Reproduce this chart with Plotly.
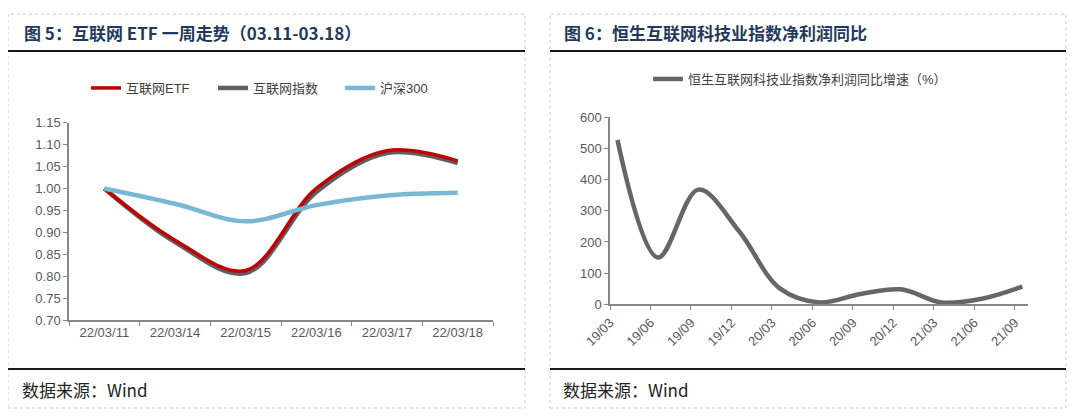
import plotly.graph_objects as go

# ---------------- data ----------------
left_dates = ["22/03/11", "22/03/14", "22/03/15", "22/03/16", "22/03/17", "22/03/18"]
etf_values = [1.000, 0.882, 0.813, 1.000, 1.086, 1.063]
index_values = [1.000, 0.878, 0.807, 0.992, 1.081, 1.058]
hs300_values = [1.000, 0.965, 0.925, 0.962, 0.984, 0.990]

right_quarters = ["19/03", "19/06", "19/09", "19/12", "20/03", "20/06",
                  "20/09", "20/12", "21/03", "21/06", "21/09"]
profit_yoy = [527, 150, 368, 235, 52, 6, 33, 48, 6, 18, 57]

left_title = "图 5：互联网 ETF 一周走势（03.11-03.18）"
right_title = "图 6：恒生互联网科技业指数净利润同比"
source_text = "数据来源：Wind"

# ---------------- layout helpers ----------------
# The page body has an 8px margin, so the figure is drawn at (8, 8).
OFF = 8
W, H = 1064, 403


def px(x):
    return (x - OFF) / W


def py(y):
    return 1 - (y - OFF) / H


AXIS_GRAY = "#868686"
TICK_FONT = dict(family="Liberation Sans, Arial, sans-serif", size=13, color="#595959")
LEG_FONT = dict(family="Liberation Sans, Noto Sans CJK SC, sans-serif", size=13, color="#404040")
TITLE_FONT = dict(family="Noto Sans CJK SC, sans-serif", size=17, color="#1f3a5c")
SRC_FONT = dict(family="Noto Sans CJK SC, Liberation Sans, sans-serif", size=17, color="#222222")

fig = go.Figure()

# left chart traces (gray under red, blue on top)
fig.add_trace(go.Scatter(
    x=left_dates, y=index_values, name="互联网指数", mode="lines",
    line=dict(color="#5f5f5f", width=4.5, shape="spline", smoothing=1.0),
    xaxis="x", yaxis="y", legend="legend", legendrank=2))
fig.add_trace(go.Scatter(
    x=left_dates, y=etf_values, name="互联网ETF", mode="lines",
    line=dict(color="#c00000", width=3.5, shape="spline", smoothing=1.0),
    xaxis="x", yaxis="y", legend="legend", legendrank=1))
fig.add_trace(go.Scatter(
    x=left_dates, y=hs300_values, name="沪深300", mode="lines",
    line=dict(color="#79b8d3", width=4.5, shape="spline", smoothing=1.0),
    xaxis="x", yaxis="y", legend="legend", legendrank=3))

# right chart trace
fig.add_trace(go.Scatter(
    x=list(range(len(right_quarters))), y=profit_yoy,
    name="恒生互联网科技业指数净利润同比增速（%）", mode="lines",
    line=dict(color="#666666", width=4.5, shape="spline", smoothing=1.0),
    xaxis="x2", yaxis="y2", legend="legend2"))

TICK_OFFSET = 0.185
right_tickvals = [i - TICK_OFFSET for i in range(len(right_quarters))]

shapes = []
for (x0, x1) in [(8, 525), (550, 1066)]:
    shapes.append(dict(type="rect", xref="paper", yref="paper",
                       x0=px(x0), x1=px(x1), y0=py(408), y1=py(14),
                       line=dict(color="#cccccc", width=1, dash="dot"),
                       fillcolor="rgba(0,0,0,0)", layer="below"))
    for yy in (51, 369):
        shapes.append(dict(type="line", xref="paper", yref="paper",
                           x0=px(x0), x1=px(x1), y0=py(yy), y1=py(yy),
                           line=dict(color="#1a1a1a", width=2)))

annotations = [
    dict(text=f"<b>{left_title}</b>", xref="paper", yref="paper",
         x=px(22), y=py(32), xanchor="left", yanchor="middle",
         showarrow=False, font=TITLE_FONT),
    dict(text=f"<b>{right_title}</b>", xref="paper", yref="paper",
         x=px(562), y=py(32), xanchor="left", yanchor="middle",
         showarrow=False, font=TITLE_FONT),
    dict(text=source_text, xref="paper", yref="paper",
         x=px(20), y=py(389), xanchor="left", yanchor="middle",
         showarrow=False, font=SRC_FONT),
    dict(text=source_text, xref="paper", yref="paper",
         x=px(561), y=py(389), xanchor="left", yanchor="middle",
         showarrow=False, font=SRC_FONT),
]

common_axis = dict(ticks="outside", ticklen=4, tickcolor=AXIS_GRAY,
                   showline=True, linecolor=AXIS_GRAY, linewidth=1.5,
                   showgrid=False, zeroline=False, tickfont=TICK_FONT,
                   automargin=False)

fig.update_layout(
    width=W, height=H,
    margin=dict(l=0, r=0, t=0, b=0, pad=0, autoexpand=False),
    paper_bgcolor="white", plot_bgcolor="white",
    shapes=shapes, annotations=annotations,
    xaxis=dict(domain=[px(69), px(493)], type="category", range=[-0.5, 5.5],
               tickson="boundaries", anchor="y", **common_axis),
    yaxis=dict(domain=[py(320), py(122.7)], range=[0.70, 1.15], dtick=0.05,
               tickformat=".2f", anchor="x", **common_axis),
    xaxis2=dict(domain=[px(610), px(1028)], range=[-TICK_OFFSET, 10.14],
                tickvals=right_tickvals, ticktext=right_quarters, tickangle=-45,
                anchor="y2", **common_axis),
    yaxis2=dict(domain=[py(304.3), py(117.3)], range=[0, 600], dtick=100,
                anchor="x2", **common_axis),
    legend=dict(orientation="h", x=px(86), y=py(88), xanchor="left", yanchor="middle",
                font=LEG_FONT, bgcolor="rgba(0,0,0,0)", traceorder="normal",
                entrywidth=82, entrywidthmode="pixels"),
    legend2=dict(orientation="h", x=px(648), y=py(79), xanchor="left", yanchor="middle",
                 font=LEG_FONT, bgcolor="rgba(0,0,0,0)"),
    showlegend=True,
)

fig.write_html("out.html")
